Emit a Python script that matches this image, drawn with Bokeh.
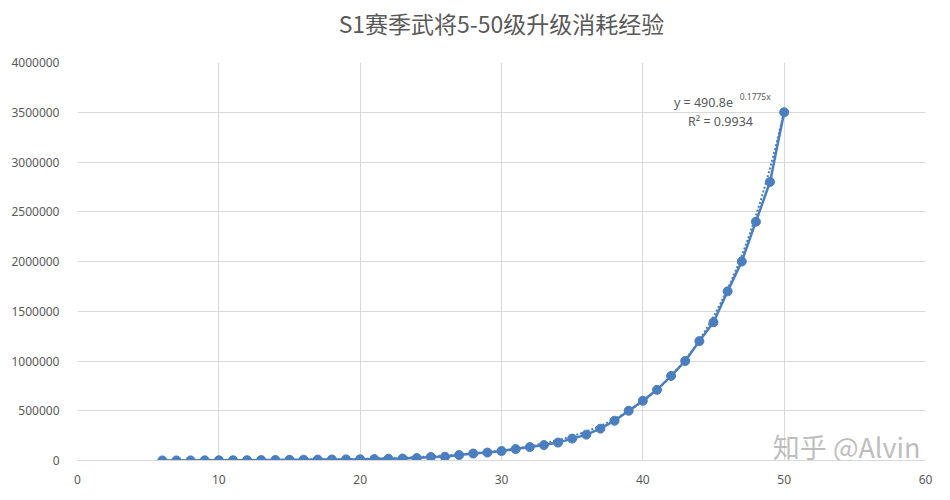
import numpy as np
from bokeh.plotting import figure
from bokeh.models import Label, FixedTicker, NumeralTickFormatter
from bokeh.embed import file_html
from bokeh.resources import INLINE

# ---- data ----
levels = list(range(6, 51))
exp_cost = [500, 800, 1000, 1500, 2000, 2500, 3000, 4000, 5000, 7000,
            8000, 9000, 10000, 11000, 12000, 14000, 18000, 20000, 24000, 35000,
            38000, 55000, 70000, 80000, 95000, 115000, 135000, 155000, 180000, 220000,
            260000, 320000, 400000, 500000, 600000, 710000, 850000, 1000000, 1200000, 1390000,
            1700000, 2000000, 2400000, 2800000, 3500000]
x_ticks = [0, 10, 20, 30, 40, 50, 60]
y_ticks = [0, 500000, 1000000, 1500000, 2000000, 2500000, 3000000, 3500000, 4000000]
trend_a = 490.8
trend_b = 0.1775
r_squared = 0.9934
title_text = "S1赛季武将5-50级升级消耗经验"
watermark = "知乎 @Alvin"

BLUE = "#4a7ebf"
GRID = "#d9d9d9"
TXT = "#595959"
FONT = "Noto Sans"

p = figure(output_backend="svg", toolbar_location=None,
           frame_width=848, frame_height=398,
           x_range=(0, 60), y_range=(0, 4000000),
           min_border_left=77, min_border_right=17,
           min_border_top=62, min_border_bottom=32)
p.title.text = title_text + "\n"
p.title.align = "center"
p.title.text_font = "Noto Sans CJK SC"
p.title.text_font_size = "23px"
p.title.text_font_style = "normal"
p.title.text_line_height = 0.65
p.title.text_color = TXT
p.title.standoff = 0

p.outline_line_color = None
p.xgrid.grid_line_color = GRID
p.ygrid.grid_line_color = GRID
p.xaxis.ticker = FixedTicker(ticks=x_ticks)
p.yaxis.ticker = FixedTicker(ticks=y_ticks)
p.yaxis.formatter = NumeralTickFormatter(format="0")
for ax in (p.xaxis[0], p.yaxis[0]):
    ax.major_tick_line_color = None
    ax.minor_tick_line_color = None
    ax.major_label_text_color = TXT
    ax.major_label_text_font = FONT
    ax.major_label_text_font_size = "12px"
p.yaxis.axis_line_color = None
p.xaxis.axis_line_color = GRID
p.yaxis.major_label_standoff = 12
p.xaxis.major_label_standoff = 8

# trendline (exponential fit shown on chart)
tx = np.linspace(levels[0], levels[-1], 200)
ty = trend_a * np.exp(trend_b * tx)
p.line(tx, ty, line_color=BLUE, line_width=2, line_dash="2 2")

p.line(levels, exp_cost, line_color=BLUE, line_width=2.5)
p.scatter(levels, exp_cost, size=9, fill_color=BLUE, line_color=BLUE)

eq = Label(x=42.2, y=3600000, text=f"y = {trend_a}e", text_font=FONT,
           text_font_size="12.5px", text_color=TXT, text_baseline="middle")
p.add_layout(eq)
sup = Label(x=46.85, y=3660000, text=f"{trend_b}x", text_font=FONT,
            text_font_size="8.5px", text_color=TXT, text_baseline="middle")
p.add_layout(sup)
r2 = Label(x=43.2, y=3410000, text=f"R² = {r_squared}", text_font=FONT,
           text_font_size="12.5px", text_color=TXT, text_baseline="middle")
p.add_layout(r2)

wm = Label(x=49.2, y=140000, text=watermark, text_font="Noto Sans CJK SC",
           text_font_size="27px", text_color="#a8a8a8", text_alpha=0.75,
           text_baseline="middle")
p.add_layout(wm)

open("out.html", "w").write(file_html(p, INLINE))
